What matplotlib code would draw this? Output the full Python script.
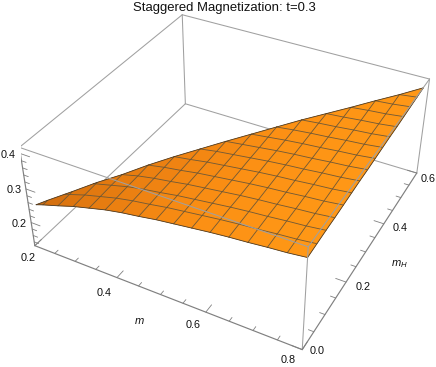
import numpy as np
import matplotlib
matplotlib.use("Agg")
import matplotlib.pyplot as plt
from mpl_toolkits.mplot3d import proj3d
from mpl_toolkits.mplot3d.art3d import Poly3DCollection

plt.rcParams["font.family"] = ["Liberation Sans", "DejaVu Sans"]
plt.rcParams["mathtext.fontset"] = "custom"
plt.rcParams["mathtext.it"] = "Liberation Sans:italic"
plt.rcParams["mathtext.rm"] = "Liberation Sans"

W, H = 436, 367

m_range = (0.2, 0.8)
mh_range = (0.0, 0.6)
z_range = (0.128, 0.417)

m_mesh = [0.2, 0.2375, 0.275, 0.3125, 0.35, 0.3875, 0.425, 0.4625, 0.5,
          0.5375, 0.575, 0.6125, 0.65, 0.6875, 0.725, 0.7625, 0.8]
mh_mesh = [0.0, 0.0375, 0.075, 0.1125, 0.15, 0.1875, 0.225, 0.2625, 0.3,
           0.3375, 0.375, 0.4125, 0.45, 0.4875, 0.525, 0.5625, 0.6]

# staggered magnetization, one row per m_mesh value, starting at mh=0
z_rows = [
    [.254, .256],
    [.270, .272, .274],
    [.284, .286, .288, .289],
    [.299, .301, .303, .304, .306],
    [.311, .313, .315, .316, .318, .320],
    [.323, .325, .327, .328, .330, .332, .334],
    [.332, .334, .336, .337, .339, .341, .343, .344],
    [.339, .341, .343, .344, .346, .348, .350, .351, .353],
    [.347, .349, .351, .352, .354, .356, .358, .359, .361, .363],
    [.353, .355, .357, .358, .360, .362, .364, .365, .367, .369, .371],
    [.359, .361, .363, .364, .366, .368, .370, .371, .373, .375, .377, .378],
    [.365, .367, .369, .370, .372, .374, .376, .377, .379, .381, .383, .384, .386],
    [.370, .372, .374, .375, .377, .379, .381, .382, .384, .386, .388, .389, .391, .393],
    [.374, .376, .378, .379, .381, .383, .385, .386, .388, .390, .392, .393, .395, .397, .399],
    [.379, .381, .383, .384, .386, .388, .390, .391, .393, .395, .397, .398, .400, .402, .404, .406],
    [.383, .385, .387, .388, .390, .392, .394, .395, .397, .399, .401, .402, .404, .406, .408, .410, .411],
    [.389, .391, .393, .394, .396, .398, .400, .401, .403, .405, .407, .408, .410, .412, .414, .416, .417],
]

# the solution only exists for m - mh above this gap, a bit less near mh=0
edge_gap = 0.2375
edge_gap_tip = 0.22
edge_tip_mh = 0.1125

m_major = [0.2, 0.4, 0.6, 0.8]
m_minor = [0.25, 0.3, 0.35, 0.45, 0.5, 0.55, 0.65, 0.7, 0.75]
mh_major = [0.0, 0.2, 0.4, 0.6]
mh_minor = [0.05, 0.1, 0.15, 0.25, 0.3, 0.35, 0.45, 0.5, 0.55]
z_major = [0.2, 0.3, 0.4]
z_minor = [0.14, 0.16, 0.18, 0.22, 0.24, 0.26, 0.28, 0.32, 0.34, 0.36, 0.38]

m_labels = ["0.2", "0.4", "0.6", "0.8"]
mh_labels = ["0.0", "0.2", "0.4", "0.6"]
z_labels = ["0.2", "0.3", "0.4"]

BOX = "#a0a0a0"
AXIS = "#808080"
MESH = "#6e5632"
EDGE = "#4a3a25"
TEXT = "#111111"

shade_m = [0.2, 0.3, 0.45, 0.6, 0.8]
shade_r = [200, 222, 240, 252, 255]
shade_g = [105, 118, 132, 145, 152]
shade_b = [15, 15, 18, 20, 22]


def inside(p):
    gap = np.interp(p[1], [0, edge_tip_mh], [edge_gap_tip, edge_gap])
    return p[0] - p[1] - gap + 1e-6


def cut(a, b):
    t = inside(a) / (inside(a) - inside(b))
    return tuple(u + t * (v - u) for u, v in zip(a, b))


def clip_polygon(pts):
    out = []
    for k, p in enumerate(pts):
        q = pts[(k + 1) % len(pts)]
        if inside(p) >= 0:
            out.append(p)
        if (inside(p) >= 0) != (inside(q) >= 0):
            out.append(cut(p, q))
    return out


def clip_line(pts):
    out = []
    ends = []
    for p, q in zip(pts[:-1], pts[1:]):
        if inside(p) >= 0:
            out.append(p)
        if (inside(p) >= 0) != (inside(q) >= 0):
            c = cut(p, q)
            out.append(c)
            ends.append(c)
    if pts and inside(pts[-1]) >= 0:
        out.append(pts[-1])
    return out, ends


def node(i, j):
    return (m_mesh[i], mh_mesh[j], z_rows[i][j])


def line3d(ax, pts, color, lw, zorder):
    xs, ys, zs = zip(*pts)
    ax.plot(xs, ys, zs, color=color, lw=lw, zorder=zorder, solid_capstyle="round")


fig = plt.figure(figsize=(W / 100, H / 100), dpi=100)
# placed so the projected box lands on the reference corners
ax = fig.add_axes([20.82 / W, -8.2 / H, 416.6 / W, 416.6 / H], projection="3d",
                  computed_zorder=False)
ax.set_xlim(*m_range)
ax.set_ylim(*mh_range)
ax.set_zlim(*z_range)
ax.view_init(elev=36.253, azim=-61.737)
ax.set_proj_type("persp", focal_length=0.441)
ax.set_box_aspect((0.997, 1, 0.408))
ax.set_axis_off()
ax.patch.set_alpha(0)

m0, m1 = m_range
h0, h1 = mh_range
z0, z1 = z_range

# box edges behind the surface
for a, b in [((m0, h0, z0), (m0, h1, z0)), ((m0, h1, z0), (m1, h1, z0))]:
    line3d(ax, [a, b], BOX, 0.75, 1)

# surface
polys, colors = [], []
for i in range(len(m_mesh) - 1):
    for j in range(min(i + 1, len(mh_mesh) - 1)):
        cell = clip_polygon([node(i, j), node(i + 1, j), node(i + 1, j + 1), node(i, j + 1)])
        if len(cell) < 3:
            continue
        mean_m = np.mean([p[0] for p in cell])
        polys.append(cell)
        colors.append((np.interp(mean_m, shade_m, shade_r) / 255,
                       np.interp(mean_m, shade_m, shade_g) / 255,
                       np.interp(mean_m, shade_m, shade_b) / 255))
surf = Poly3DCollection(polys, facecolors=colors, edgecolors=colors, linewidths=0.3, zorder=2)
ax.add_collection3d(surf)

# mesh lines and the boundary
edge_pts = []
for i in range(len(m_mesh)):
    pts, ends = clip_line([node(i, j) for j in range(len(z_rows[i]))])
    edge_pts += ends
    if len(pts) > 1:
        line3d(ax, pts, EDGE if i == len(m_mesh) - 1 else MESH, 0.6, 3)
for j in range(len(mh_mesh)):
    rows = [i for i in range(len(m_mesh)) if j < len(z_rows[i])]
    pts, ends = clip_line([node(i, j) for i in rows])
    edge_pts += ends
    if len(pts) > 1:
        line3d(ax, pts, EDGE if j == 0 else MESH, 0.6, 3)
line3d(ax, sorted(edge_pts), EDGE, 0.6, 3)

# box edges in front of the surface
for a, b in [((m0, h0, z1), (m1, h0, z1)), ((m1, h0, z1), (m1, h1, z1)),
             ((m0, h0, z1), (m0, h1, z1)), ((m0, h1, z1), (m1, h1, z1)),
             ((m0, h1, z0), (m0, h1, z1)), ((m1, h1, z0), (m1, h1, z1)),
             ((m1, h0, z0), (m1, h0, z1))]:
    line3d(ax, [a, b], BOX, 0.75, 4)
for a, b in [((m0, h0, z0), (m1, h0, z0)), ((m1, h0, z0), (m1, h1, z0)),
             ((m0, h0, z0), (m0, h0, z1))]:
    line3d(ax, [a, b], AXIS, 0.85, 4)

# ticks point into the box
for ticks, size in [(m_major, 0.022), (m_minor, 0.011)]:
    for v in ticks:
        line3d(ax, [(v, h0, z0), (v, h0 + size, z0)], AXIS, 0.6, 4)
for ticks, size in [(mh_major, 0.022), (mh_minor, 0.011)]:
    for v in ticks:
        line3d(ax, [(m1, v, z0), (m1 - size, v, z0)], AXIS, 0.6, 4)
for ticks, size in [(z_major, 0.022), (z_minor, 0.011)]:
    for v in ticks:
        line3d(ax, [(m0, h0, v), (m0 + size, h0, v)], AXIS, 0.6, 4)


def tick_label(text, x, y, z, dx, dy):
    px, py, _ = proj3d.proj_transform(x, y, z, ax.get_proj())
    ax.annotate(text, xy=(px, py), xytext=(dx, dy), textcoords="offset pixels",
                ha="center", va="center", fontsize=7.8, color=TEXT,
                annotation_clip=False, zorder=5)


for text, v, off in zip(m_labels, m_major, [(-7, -12), (-13, -15), (-13, -13), (-14, -10)]):
    tick_label(text, v, h0, z0, *off)
for text, v, off in zip(mh_labels, mh_major, [(15, -1), (17, -5), (16, -4), (11, -6)]):
    tick_label(text, m1, v, z0, *off)
for text, v in zip(z_labels, z_major):
    tick_label(text, m0, h0, v, -12, -1)

fig.text(139 / W, 1 - 321 / H, "$m$", fontsize=8, ha="center", va="center", color=TEXT)
fig.text(399 / W, 1 - 264 / H, "$m_H$", fontsize=8, ha="center", va="center", color=TEXT)
fig.text(224 / W, 1 - 8.5 / H, "Staggered Magnetization: t=0.3", fontsize=9.45,
         ha="center", va="center", color=TEXT)

fig.savefig("out.png", dpi=100)
